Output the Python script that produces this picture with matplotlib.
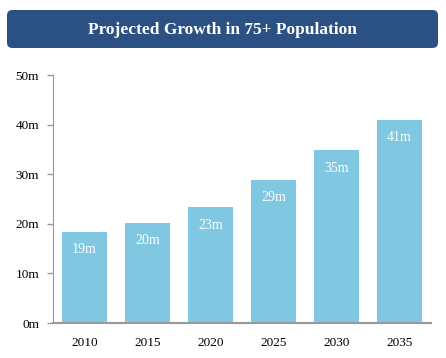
import matplotlib
matplotlib.use("Agg")
import matplotlib.pyplot as plt
from matplotlib.patches import FancyBboxPatch

years = ["2010", "2015", "2020", "2025", "2030", "2035"]
values = [18.4, 20.1, 23.3, 28.8, 34.8, 41.0]
bar_labels = ["19m", "20m", "23m", "29m", "35m", "41m"]
yticks = [0, 10, 20, 30, 40, 50]
ytick_labels = ["0m", "10m", "20m", "30m", "40m", "50m"]
title = "Projected Growth in 75+ Population"

W, H = 446, 358
fig = plt.figure(figsize=(W / 100, H / 100), dpi=100)
plt.rcParams['font.family'] = ['Liberation Serif', 'DejaVu Serif']

# Title banner
box = FancyBboxPatch((7 / W, 1 - 48 / H), (438 - 7) / W, (48 - 10) / H,
                     boxstyle="round,pad=0,rounding_size=0.012",
                     transform=fig.transFigure, facecolor="#2b5184",
                     edgecolor="none", mutation_aspect=W / H)
fig.patches.append(box)
fig.text((7 + 438) / 2 / W, 1 - 29.5 / H, title, color="white",
         fontsize=12.5, fontweight="bold", ha="center", va="center")

ax = fig.add_axes([53 / W, 1 - 323 / H, (431 - 53) / W, (323 - 75) / H])
x = list(range(len(years)))
bars = ax.bar(x, values, width=0.714, color="#80c8e2", edgecolor="none")
for xi, v, lab in zip(x, values, bar_labels):
    ax.annotate(lab, (xi, v), xytext=(0, -8), textcoords="offset points",
                ha="center", va="top", color="white", fontsize=10)

ax.set_xlim(-0.5, 5.5)
ax.set_ylim(0, 50)
ax.set_yticks(yticks)
ax.set_yticklabels(ytick_labels, fontsize=9.5)
ax.set_xticks(x)
ax.set_xticklabels(years, fontsize=9.5)
ax.tick_params(axis="x", length=0, pad=10)
ax.tick_params(axis="y", length=4, color="#999999", width=1, pad=6)
for s in ["top", "right"]:
    ax.spines[s].set_visible(False)
ax.spines["left"].set_color("#999999")
ax.spines["bottom"].set_color("#999999")
ax.spines["bottom"].set_linewidth(1.5)

fig.savefig("out.png", dpi=100)
